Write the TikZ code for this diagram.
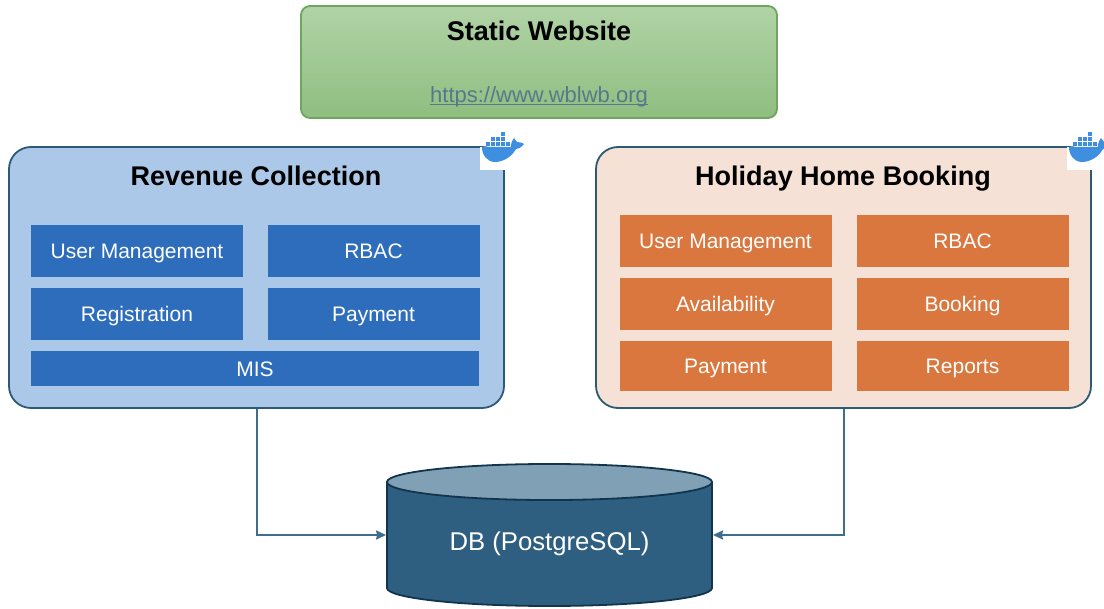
\documentclass[tikz,border=0pt]{standalone}
\usepackage{fontspec}
\setmainfont{Liberation Sans}
\usepackage{tikz}
\usetikzlibrary{shapes.geometric,arrows.meta,positioning}
\usepackage{xcolor}

\definecolor{webgreen}{HTML}{A3CB96}
\definecolor{webgreendark}{HTML}{8FBE80}
\definecolor{webedge}{HTML}{6FA560}
\definecolor{linkgrey}{HTML}{55798C}
\definecolor{revfill}{HTML}{ABC8E8}
\definecolor{revsub}{HTML}{2E6DBC}
\definecolor{holfill}{HTML}{F5E1D5}
\definecolor{holsub}{HTML}{D9773F}
\definecolor{edgeteal}{HTML}{2C5A76}
\definecolor{arrowteal}{HTML}{3F6E8C}
\definecolor{dbbody}{HTML}{2F5F80}
\definecolor{dbtop}{HTML}{7FA0B5}
\definecolor{dbedge}{HTML}{12344D}
\definecolor{dockerblue}{HTML}{3F8FE0}

\newcommand{\dockericon}[1]{%
  \begin{scope}[shift={(#1)}]
    \fill[dockerblue] (0,0) -- (29,0) .. controls (29,-4) and (30,-7) .. (32,-9) -- (35,-5)
      .. controls (38,-5) and (41,-4) .. (42,-3) .. controls (39,1) and (36,2) .. (34,2)
      .. controls (29,11) and (20,15) .. (13,15) .. controls (5,15) and (0,8) .. (0,0) -- cycle;
    \foreach \i in {4,9,14,19,24} \fill[dockerblue] (\i,-5) rectangle +(4,4);
    \foreach \i in {9,14,19} \fill[dockerblue] (\i,-10) rectangle +(4,4);
    \fill[dockerblue] (19,-15) rectangle +(4,4);
  \end{scope}}

\newcommand{\linkline}[1]{\setbox0=\hbox{#1}\rlap{\rule[-2.5pt]{\wd0}{1.2pt}}\box0}

\begin{document}
\begin{tikzpicture}[
    x=1pt, y=-1pt,
    panel/.style={rectangle, draw=edgeteal, line width=1.8pt, minimum width=495pt, minimum height=261pt, rounded corners=22pt},
    revsubbox/.style={rectangle, fill=revsub, text=white, minimum width=212pt, minimum height=52pt, font=\fontsize{21}{24}\selectfont, inner sep=0pt, text height=15pt, text depth=0pt},
    holsubbox/.style={rectangle, fill=holsub, text=white, minimum width=212pt, minimum height=52pt, font=\fontsize{21}{24}\selectfont, inner sep=0pt, text height=15pt, text depth=0pt},
    heading/.style={font=\fontsize{27}{30}\selectfont\bfseries, text=black, inner sep=0pt, text height=19pt, text depth=0pt},
    link/.style={draw=arrowteal, line width=2pt, -{Stealth[length=10pt,width=9pt,inset=1pt]}},
    patch/.style={fill=white, minimum width=25pt, minimum height=23pt, inner sep=0pt}
]
\useasboundingbox (0,0) rectangle (1104,609);

% Static website
\node[rectangle, draw=webedge, line width=1.8pt, top color=webgreen!85!white, bottom color=webgreendark, minimum width=476pt, minimum height=112pt, rounded corners=9pt] (website) at (539,62) {};
\node[heading] (websitetitle) at (539,31) {Static Website};
\node[text=linkgrey, font=\fontsize{22}{24}\selectfont, inner sep=0pt, text height=16pt, text depth=0pt] (websitelink) at (539,95) {\linkline{https://www.wblwb.org}};

% Main panels
\node[panel, fill=revfill] (revenue) at (256.5,277.5) {};
\node[panel, fill=holfill] (holiday) at (843.5,277.5) {};
\node[heading] (revenuetitle) at (256,176) {Revenue Collection};
\node[heading] (holidaytitle) at (843,176) {Holiday Home Booking};

% Sub-components under Revenue Collection
\node[revsubbox] (revuser) at (137,251.5) {User Management};
\node[revsubbox, right of=revuser, node distance=236.5pt] (revrbac) {RBAC};
\node[revsubbox, below of=revuser, node distance=62.5pt] (revreg) {Registration};
\node[revsubbox, below of=revrbac, node distance=62.5pt] (revpay) {Payment};
\node[revsubbox, minimum width=448pt, minimum height=35pt] (revmis) at (255,369) {MIS};

% Sub-components under Holiday Home Booking
\node[holsubbox] (holuser) at (725.5,241) {User Management};
\node[holsubbox, right of=holuser, node distance=237pt] (holrbac) {RBAC};
\node[holsubbox, below of=holuser, node distance=63pt] (holavail) {Availability};
\node[holsubbox, below of=holrbac, node distance=63pt] (holbook) {Booking};
\node[holsubbox, below of=holavail, node distance=62pt, minimum height=50pt] (holpay) {Payment};
\node[holsubbox, below of=holbook, node distance=62pt, minimum height=50pt] (holreports) {Reports};

% Docker badges
\node[patch] (revpatch) at (492.5,158.5) {};
\node[patch] (holpatch) at (1079.5,158.5) {};
\dockericon{482,147}
\dockericon{1069,147}

% Database
\node[cylinder, shape border rotate=90, aspect=0.17, draw=dbedge, line width=1.8pt, cylinder uses custom fill, cylinder body fill=dbbody, cylinder end fill=dbtop, minimum width=325pt, minimum height=142pt, inner sep=6pt, text=white, font=\fontsize{25.7}{30}\selectfont, text height=19pt, text depth=12pt, anchor=shape center] (db) at (549.5,535) {DB (PostgreSQL)};

% Arrows to the database
\draw[link] (revenue.south) |- (db.shape center -| db.west);
\draw[link] (holiday.south) |- (db.shape center -| db.east);

\end{tikzpicture}
\end{document}
